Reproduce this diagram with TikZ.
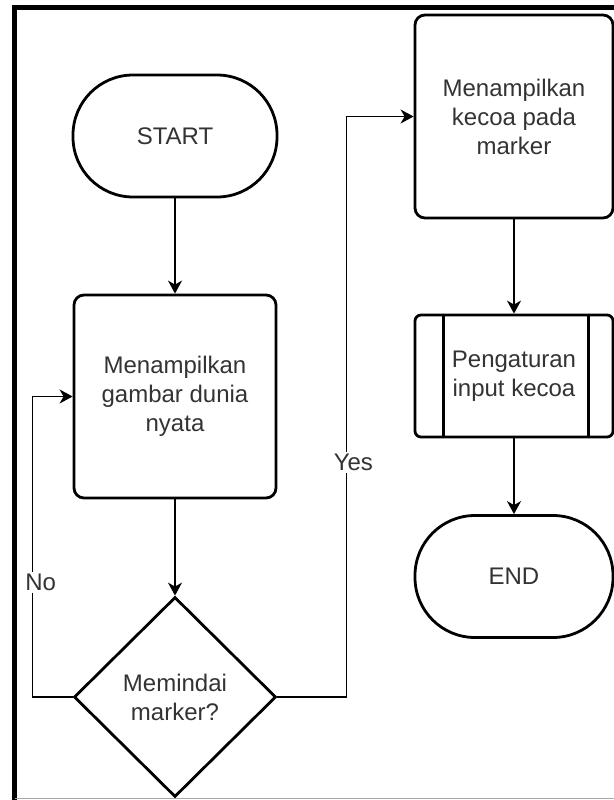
\documentclass[tikz,border=0pt]{standalone}
\usepackage{fontspec}
\setmainfont{Liberation Sans}
\usepackage{tikz}
\definecolor{txtgray}{HTML}{333333}
\usetikzlibrary{arrows.meta, shapes.geometric}

\begin{document}
\begin{tikzpicture}[x=0.5pt, y=-0.5pt,
  >={Stealth[length=6.5pt, width=7pt, inset=2pt]},
  box/.style={draw, line width=1.4pt, rounded corners=5pt, align=center,
    inner sep=0pt, text=txtgray, font=\fontsize{12}{14.5}\selectfont},
  terminal/.style={box, rounded corners=30pt, minimum height=61pt},
  process/.style={box, minimum height=101.5pt},
  subproc/.style={box, rounded corners=3pt, minimum width=99pt, minimum height=61pt},
  decision/.style={box, diamond, rounded corners=0pt, aspect=1,
    minimum width=101pt, minimum height=100pt},
  flow/.style={->, line width=0.85pt},
  lbl/.style={fill=white, inner sep=1pt, text=txtgray, font=\fontsize{12}{14.5}\selectfont}]
  \useasboundingbox (0,0) rectangle (614,800);

  % Frame round the chart
  \draw[line width=2.5pt] (14.5,800) -- (14.5,7.5) -- (614,7.5);
  \draw[gray!70, line width=0.6pt] (14.5,798.5) -- (614,798.5);

  % Left column
  \node[terminal, minimum width=102pt] (start) at (175,136) {START};
  \node[process, minimum width=101pt] (show) at (175,396.5) {Menampilkan\\gambar dunia\\nyata};
  \node[decision] (scan) at (175,697) {Memindai\\marker?};

  % Right column
  \node[process, minimum width=99pt] (kecoa) at (514,116.5) {Menampilkan\\kecoa pada\\marker};
  \node[subproc] (input) at (514,376) {Pengaturan\\input kecoa};
  \node[terminal, minimum width=99pt] (end) at (514,576.5) {END};

  % Side bars of the subprocess
  \draw[line width=1.4pt] ([xshift=15pt]input.north west) -- ([xshift=15pt]input.south west);
  \draw[line width=1.4pt] ([xshift=-13pt]input.north east) -- ([xshift=-13pt]input.south east);

  % Connectors
  \draw[flow] (start) -- (show);
  \draw[flow] (show) -- (scan);
  \draw[flow] (scan.west) -- ++(-40,0) |- node[lbl, pos=0.19, xshift=4pt] {No} (show.west);
  \draw[flow] (scan.east) -- ++(69,0) |- node[lbl, pos=0.202, xshift=3.5pt] {Yes} (kecoa.west);
  \draw[flow] (kecoa) -- (input);
  \draw[flow] (input) -- (end);
\end{tikzpicture}
\end{document}
